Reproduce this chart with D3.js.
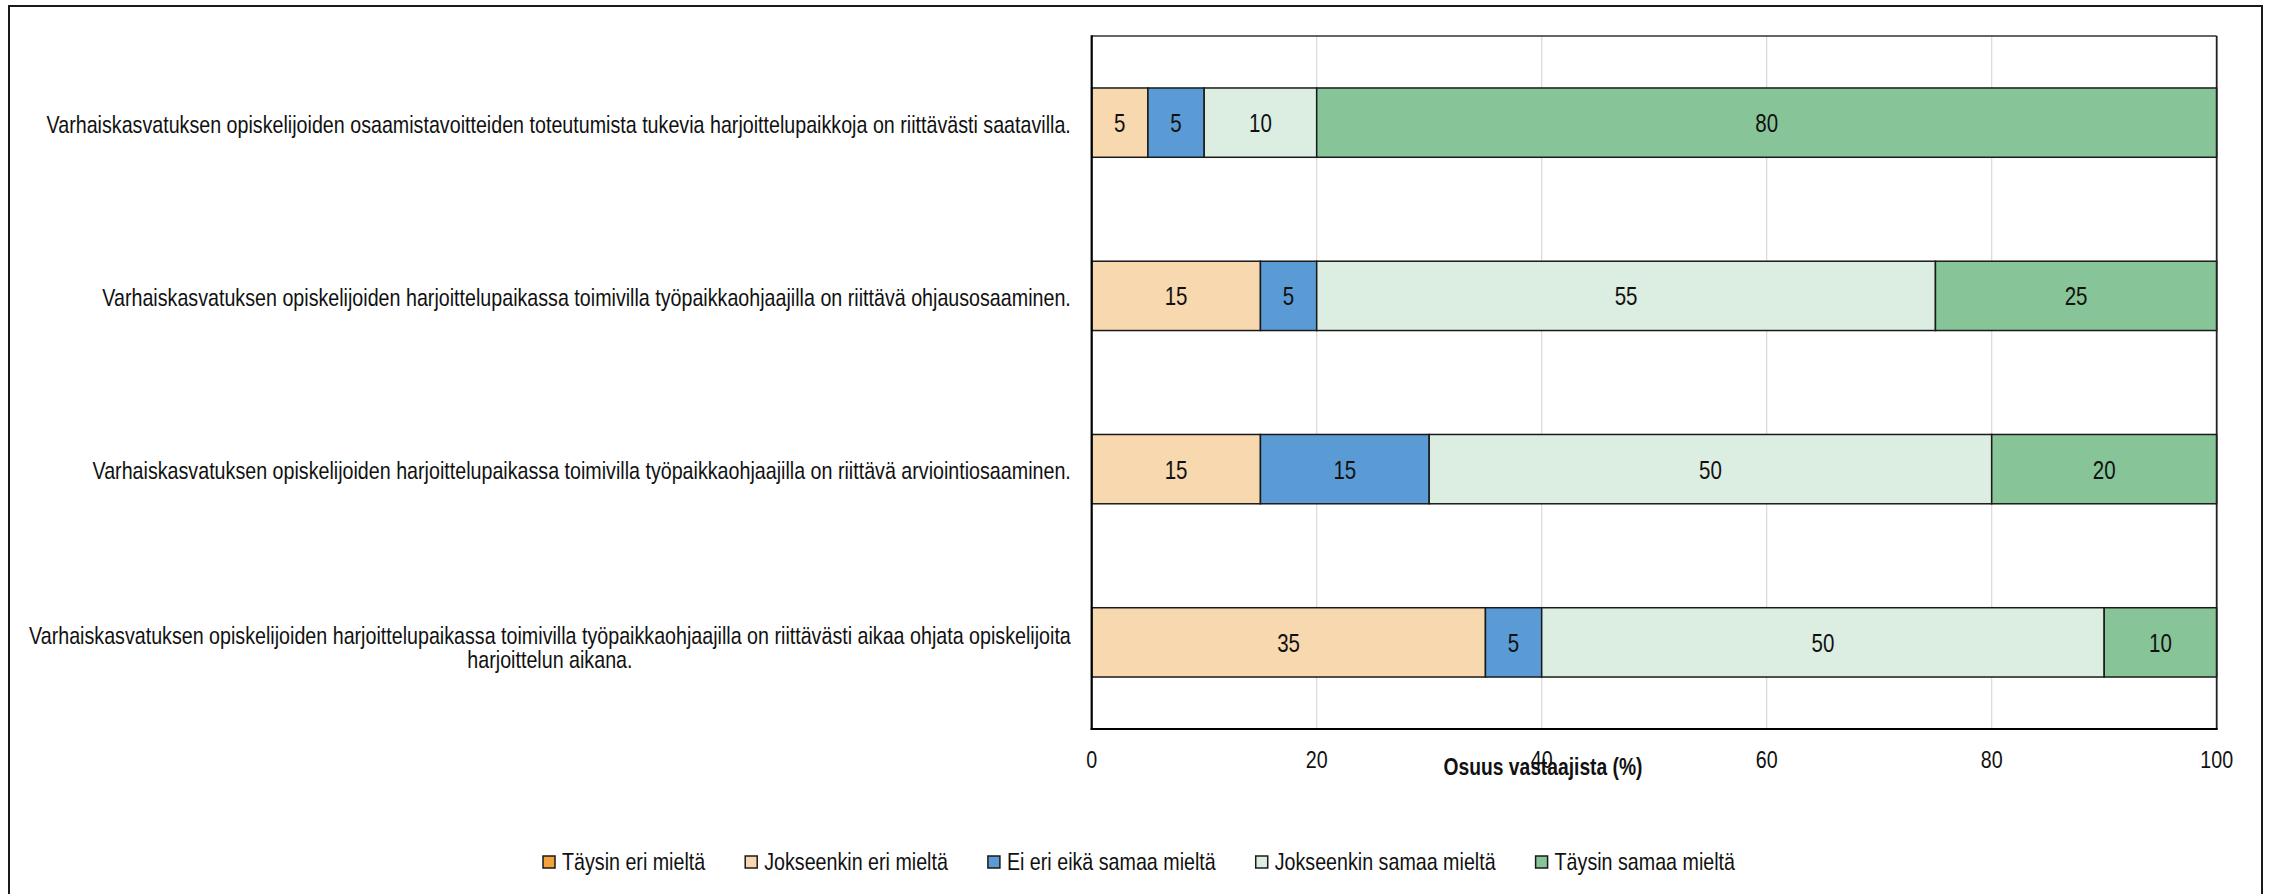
<!DOCTYPE html>
<html><head><meta charset="utf-8">
<script src="https://cdn.jsdelivr.net/npm/d3@7"></script>
<style>html,body{margin:0;padding:0;background:#fff;}svg{display:block;}</style>
</head><body>
<svg id="chart" width="2270" height="894"></svg>
<script>
// ---- data ----
const categories = [
  "Varhaiskasvatuksen opiskelijoiden osaamistavoitteiden toteutumista tukevia harjoittelupaikkoja on riittävästi saatavilla.",
  "Varhaiskasvatuksen opiskelijoiden harjoittelupaikassa toimivilla työpaikkaohjaajilla on riittävä ohjausosaaminen.",
  "Varhaiskasvatuksen opiskelijoiden harjoittelupaikassa toimivilla työpaikkaohjaajilla on riittävä arviointiosaaminen.",
  "Varhaiskasvatuksen opiskelijoiden harjoittelupaikassa toimivilla työpaikkaohjaajilla on riittävästi aikaa ohjata opiskelijoita\nharjoittelun aikana."
];
const seriesNames = ["Täysin eri mieltä", "Jokseenkin eri mieltä", "Ei eri eikä samaa mieltä", "Jokseenkin samaa mieltä", "Täysin samaa mieltä"];
const seriesColors = ["#F4A23B", "#F7D8AF", "#5B9BD5", "#DCEDE1", "#87C598"];
const taysinEri      = [0, 0, 0, 0];
const jokseenkinEri  = [5, 15, 15, 35];
const eiEriEikaSamaa = [5, 5, 15, 5];
const jokseenkinSamaa= [10, 55, 50, 50];
const taysinSamaa    = [80, 25, 20, 10];
const xTicks = [0, 20, 40, 60, 80, 100];
const xTitle = "Osuus vastaajista (%)";

// ---- font handling ----
function fontAvailable(name){
  const c=document.createElement('canvas').getContext('2d');
  const t='Varhaiskasvatuksen opiskelijoiden 0123';
  c.font='40px monospace'; const a=c.measureText(t).width;
  c.font='40px "'+name+'", monospace'; const b=c.measureText(t).width;
  return Math.abs(a-b)>0.5;
}
let FONT, SX;
if (fontAvailable("Liberation Sans Narrow")) { FONT='"Liberation Sans Narrow", "Arial Narrow", sans-serif'; SX=1; }
else { FONT='"Liberation Sans", Arial, sans-serif'; SX=0.82; }
function place(sel, x, y){ sel.attr("transform", "translate(" + x + "," + y + ") scale(" + SX + ",1)"); }

// ---- layout ----
const svg = d3.select("#chart");
const L = 1091.7, R = 2216.7, T = 36, B = 729;

svg.append("rect").attr("x",9).attr("y",6).attr("width",2253).attr("height",920)
  .attr("fill","#fff").attr("stroke","#1a1a1a").attr("stroke-width",2);

const x = d3.scaleLinear().domain([0,100]).range([L,R]);
const y = d3.scaleBand().domain(d3.range(categories.length)).range([T,B]).paddingInner(0.6).paddingOuter(0.3);

// gridlines
svg.append("g").selectAll("line").data(xTicks.filter(d=>d>0 && d<100)).join("line")
  .attr("x1",d=>x(d)).attr("x2",d=>x(d)).attr("y1",T).attr("y2",B)
  .attr("stroke","#d9d9d9").attr("stroke-width",1.2);

// stacked data
const table = categories.map((c,i)=>({i, s0:taysinEri[i], s1:jokseenkinEri[i], s2:eiEriEikaSamaa[i], s3:jokseenkinSamaa[i], s4:taysinSamaa[i]}));
const stack = d3.stack().keys(["s0","s1","s2","s3","s4"])(table);

const gBars = svg.append("g");
stack.forEach((layer, k)=>{
  const g = gBars.append("g");
  layer.forEach(d=>{
    const v = d[1]-d[0];
    if (v<=0) return;
    g.append("rect").attr("x",x(d[0])).attr("y",y(d.data.i)).attr("width",x(d[1])-x(d[0])).attr("height",y.bandwidth())
      .attr("fill",seriesColors[k]).attr("stroke","#1a1a1a").attr("stroke-width",1.5);
    const t = g.append("text").text(v).attr("font-family",FONT).attr("font-size",25).attr("fill","#111")
      .attr("text-anchor","middle");
    place(t, (x(d[0])+x(d[1]))/2, y(d.data.i)+y.bandwidth()/2+9.5);
  });
});

// plot frame
svg.append("line").attr("x1",L).attr("x2",R).attr("y1",T).attr("y2",T).attr("stroke","#333").attr("stroke-width",1.5);
svg.append("line").attr("x1",R).attr("x2",R).attr("y1",T).attr("y2",B).attr("stroke","#222").attr("stroke-width",1.8);
svg.append("line").attr("x1",L).attr("x2",L).attr("y1",T-0.75).attr("y2",B+1).attr("stroke","#000").attr("stroke-width",2.2);
svg.append("line").attr("x1",L-1).attr("x2",R+1).attr("y1",B).attr("y2",B).attr("stroke","#000").attr("stroke-width",2.2);

// x axis labels
const xAxis = d3.axisBottom(x).tickValues(xTicks).tickSize(0).tickPadding(0);
const gx = svg.append("g").attr("transform","translate(0,"+B+")").call(xAxis);
gx.select(".domain").remove();
gx.selectAll("text").attr("font-family",FONT).attr("font-size",24).attr("fill","#111").attr("dy",null).attr("y",null)
  .each(function(d){ place(d3.select(this), 0, 39); });
gx.selectAll(".tick").attr("transform", d=>"translate("+x(d)+",0)");

// axis title
const tt = svg.append("text").text(xTitle).attr("font-family",FONT).attr("font-size",23.5).attr("font-weight","bold")
  .attr("text-anchor","middle").attr("fill","#111");
place(tt, 1543, 775);

// category labels
const labelRight = 1071, lineH = 24.6;
categories.forEach((c,i)=>{
  const lines = c.split("\n");
  const g = svg.append("g");
  const nodes = lines.map(l=>g.append("text").text(l).attr("font-family",FONT).attr("font-size",24).attr("fill","#111").attr("text-anchor","middle"));
  const W = d3.max(nodes, n=>n.node().getComputedTextLength()*SX);
  const cy = y(i)+y.bandwidth()/2 + (lines.length>1 ? 5 : 1.5);
  nodes.forEach((n,j)=>{
    const ly = cy + (j-(lines.length-1)/2)*lineH + 8.5;
    place(n, labelRight - W/2, ly);
  });
});

// legend
const legG = svg.append("g");
const items = seriesNames.map((s,k)=>{
  const g = legG.append("g");
  g.append("rect").attr("width",12).attr("height",12).attr("fill",seriesColors[k]).attr("stroke","#1a1a1a").attr("stroke-width",1.5);
  const t = g.append("text").text(s).attr("font-family",FONT).attr("font-size",24).attr("fill","#111");
  place(t, 19, 13.5);
  return {g, w: 19 + t.node().getComputedTextLength()*SX};
});
const gap = 40;
const total = d3.sum(items, d=>d.w) + gap*(items.length-1);
let cx = 1139 - total/2;
items.forEach(it=>{ it.g.attr("transform","translate("+cx+",856)"); cx += it.w + gap; });
</script>
</body></html>
